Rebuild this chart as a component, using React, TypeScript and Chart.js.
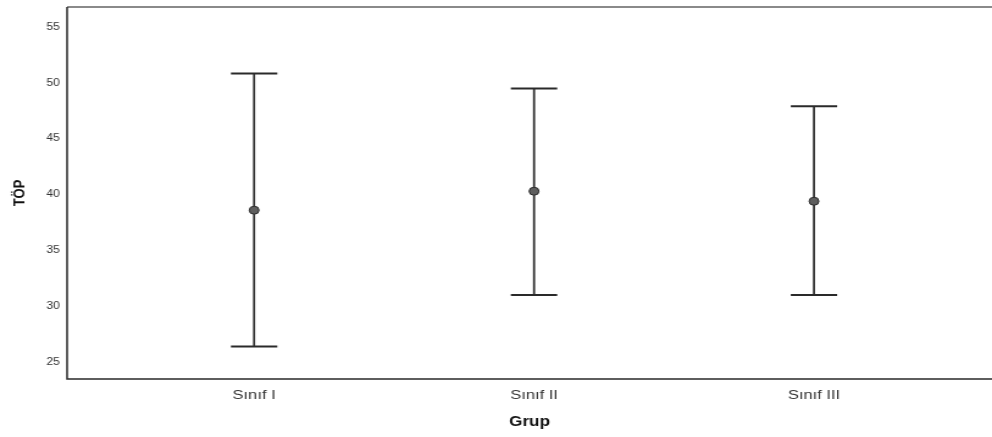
import React, { useEffect, useRef } from "react";
import { Chart, registerables } from "chart.js";

Chart.register(...registerables);

const categories = ["Sınıf I", "Sınıf II", "Sınıf III"];
const means = [38.6, 40.3, 39.4];
const upper = [50.85, 49.5, 47.9];
const lower = [26.4, 31.0, 31.0];
const yTicks = [25, 30, 35, 40, 45, 50, 55];

const STRETCH = 1.22;
const W = Math.round(992 / STRETCH);
const H = 437;

const errorBarPlugin = {
  id: "errorBars",
  beforeDatasetsDraw(chart: any) {
    const { ctx, scales, chartArea } = chart;
    const xs = scales.x;
    const ys = scales.y;
    ctx.save();
    ctx.strokeStyle = "#8a8a8a";
    ctx.lineWidth = 2;
    ctx.beginPath();
    ctx.moveTo(chartArea.left, chartArea.top);
    ctx.lineTo(chartArea.right, chartArea.top);
    ctx.stroke();
    ctx.strokeStyle = "#2a2a2a";
    ctx.lineWidth = 1.5;
    ctx.beginPath();
    ctx.moveTo(chartArea.left, chartArea.top);
    ctx.lineTo(chartArea.left, chartArea.bottom);
    ctx.lineTo(chartArea.right, chartArea.bottom);
    ctx.stroke();
    ctx.strokeStyle = "#2a2a2a";
    const capHalf = 19;
    categories.forEach((_, i) => {
      const x = xs.getPixelForValue(i + 1);
      const yh = ys.getPixelForValue(upper[i]);
      const yl = ys.getPixelForValue(lower[i]);
      ctx.lineWidth = 1.7;
      ctx.beginPath();
      ctx.moveTo(x, yh);
      ctx.lineTo(x, yl);
      ctx.stroke();
      ctx.lineWidth = 2;
      ctx.beginPath();
      ctx.moveTo(x - capHalf, yh);
      ctx.lineTo(x + capHalf, yh);
      ctx.moveTo(x - capHalf, yl);
      ctx.lineTo(x + capHalf, yl);
      ctx.stroke();
    });
    ctx.restore();
  },
};

const zeroPad = (scale: any) => {
  scale.paddingTop = 0;
  scale.paddingBottom = 0;
  scale.paddingLeft = 0;
  scale.paddingRight = 0;
};

export default function App() {
  const ref = useRef<HTMLCanvasElement>(null);
  useEffect(() => {
    if (!ref.current) return;
    const chart = new Chart(ref.current, {
      type: "scatter",
      data: {
        datasets: [
          {
            data: means.map((m, i) => ({ x: i + 1, y: m })),
            backgroundColor: "#5e5e5e",
            borderColor: "#2a2a2a",
            borderWidth: 1,
            pointRadius: 4,
            pointStyle: "circle",
          },
        ],
      },
      options: {
        animation: false,
        responsive: false,
        devicePixelRatio: 1,
        layout: { autoPadding: false, padding: { top: 7, right: 0, left: 0, bottom: 0 } },
        plugins: { legend: { display: false }, tooltip: { enabled: false } },
        scales: {
          x: {
            type: "linear",
            min: 0.332,
            max: 3.636,
            afterBuildTicks: (scale: any) => {
              scale.ticks = categories.map((_, i) => ({ value: i + 1 }));
            },
            afterFit: (scale: any) => {
              scale.height = 58;
              zeroPad(scale);
            },
            grid: { display: false, drawTicks: false },
            border: { display: false },
            ticks: {
              padding: 8,
              color: "#333333",
              font: { family: "Liberation Sans", size: 13.5 },
              callback: (v: any) => categories[Math.round(v) - 1] ?? "",
            },
            title: {
              display: true,
              text: "Grup",
              color: "#111111",
              font: { family: "Liberation Sans", size: 14, weight: "bold" },
              padding: { top: 0, bottom: 6 },
            },
          },
          y: {
            type: "linear",
            min: 23.48,
            max: 56.8,
            afterBuildTicks: (scale: any) => {
              scale.ticks = yTicks.map((v) => ({ value: v }));
            },
            afterFit: (scale: any) => {
              scale.width = 55;
              zeroPad(scale);
            },
            grid: { display: false, drawTicks: false },
            border: { display: false },
            ticks: {
              padding: 6,
              color: "#333333",
              font: { family: "Liberation Sans", size: 10 },
            },
            title: {
              display: true,
              text: "TÖP",
              color: "#111111",
              font: { family: "Liberation Sans", size: 13, weight: "bold" },
              padding: { top: 9, bottom: 0 },
            },
          },
        },
      },
      plugins: [errorBarPlugin],
    });
    return () => chart.destroy();
  }, []);
  return (
    <div style={{ position: "fixed", left: 0, top: 0, width: 992, height: 437, background: "#fff" }}>
      <canvas ref={ref} width={W} height={H} style={{ width: 992, height: 437, display: "block" }} />
    </div>
  );
}
